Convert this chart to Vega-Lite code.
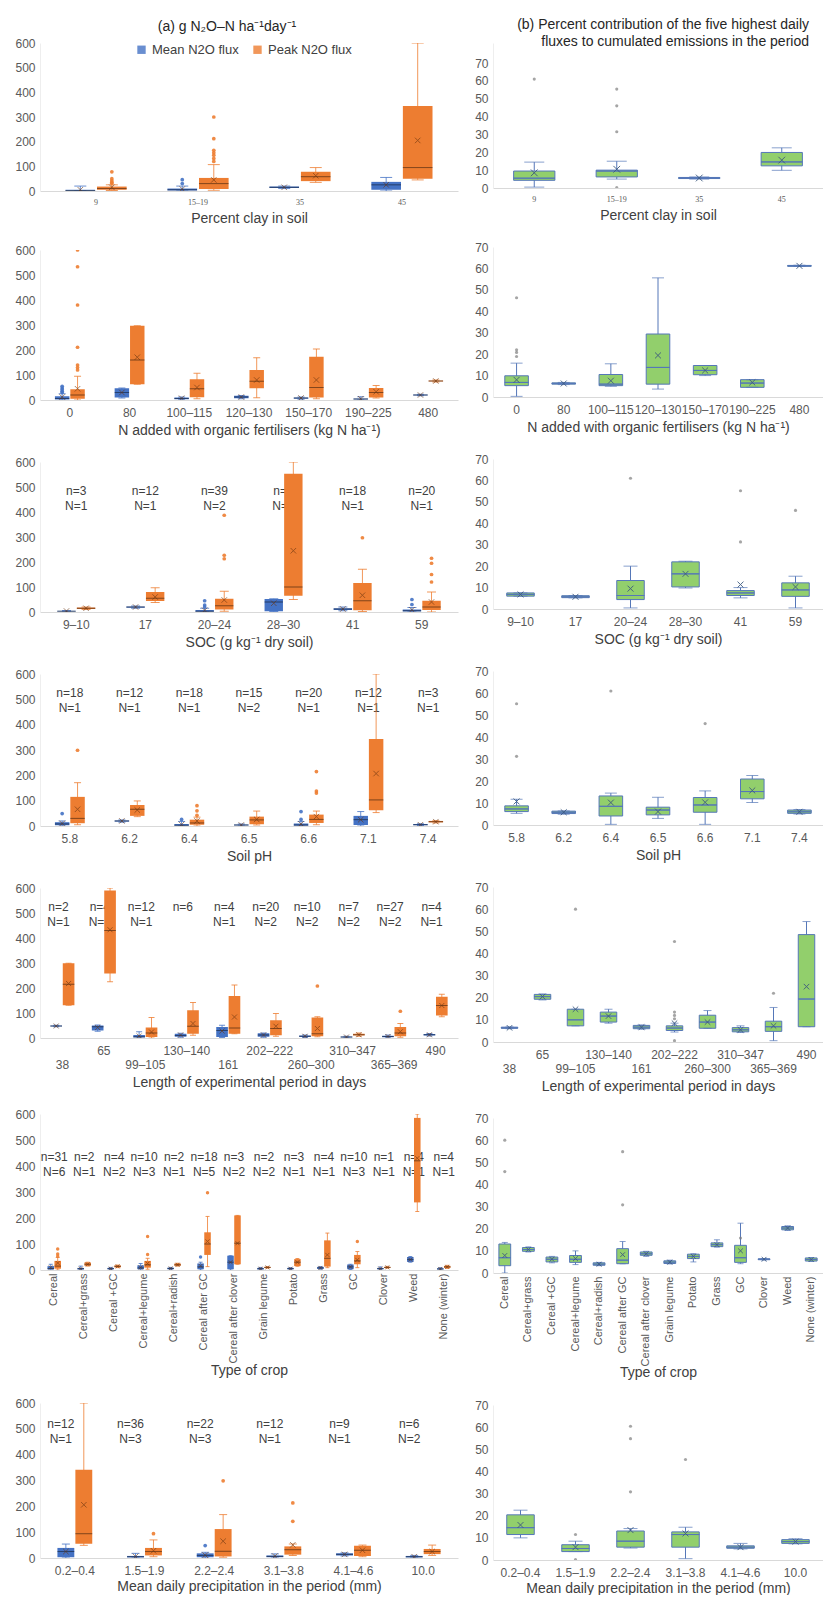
{
"$schema": "https://vega.github.io/schema/vega-lite/v6.json",
"padding": {"left": 14, "top": 18, "right": 0, "bottom": 0},
"background": "white",
"config": {
 "font": "Liberation Sans",
 "view": {"stroke": null},
 "axis": {"ticks": false, "grid": false, "labelColor": "#595959", "labelFontSize": 12, "titleColor": "#404040", "titleFontSize": 14, "titleFontWeight": "normal", "domainColor": "#d9d9d9", "labelFont": "Liberation Sans", "titleFont": "Liberation Sans"},
 "axisX": {"labelPadding": 7, "titlePadding": 5, "labelAngle": 0},
 "axisY": {"labelPadding": 5, "domainColor": "#eeeeee"},
 "title": {"fontSize": 14, "fontWeight": "normal", "color": "#262626", "font": "Liberation Sans"},
 "text": {"font": "Liberation Sans"}
},
"datasets": {"d": [
{"p":"a1","k":"b","c":"9","s":"M","lo":0,"q1":1,"md":2,"q3":5,"hi":20,"mn":5},
{"p":"a1","k":"b","c":"9","s":"P","lo":2,"q1":5,"md":10,"q3":18,"hi":25,"mn":15},
{"p":"a1","k":"b","c":"15–19","s":"M","lo":0,"q1":2,"md":5,"q3":10,"hi":20,"mn":8},
{"p":"a1","k":"b","c":"15–19","s":"P","lo":3,"q1":8,"md":30,"q3":53,"hi":107,"mn":45},
{"p":"a1","k":"b","c":"35","s":"M","lo":10,"q1":12,"md":15,"q3":18,"hi":20,"mn":15},
{"p":"a1","k":"b","c":"35","s":"P","lo":35,"q1":40,"md":58,"q3":78,"hi":95,"mn":62},
{"p":"a1","k":"b","c":"45","s":"M","lo":0,"q1":5,"md":25,"q3":37,"hi":55,"mn":25},
{"p":"a1","k":"b","c":"45","s":"P","lo":45,"q1":50,"md":95,"q3":345,"hi":600,"mn":205},
{"p":"a1","k":"o","c":"9","s":"P","v":78},{"p":"a1","k":"o","c":"9","s":"P","v":50},{"p":"a1","k":"o","c":"9","s":"P","v":42},{"p":"a1","k":"o","c":"9","s":"P","v":35},{"p":"a1","k":"o","c":"9","s":"P","v":30},
{"p":"a1","k":"o","c":"15–19","s":"M","v":46},{"p":"a1","k":"o","c":"15–19","s":"M","v":30},
{"p":"a1","k":"o","c":"15–19","s":"P","v":300},{"p":"a1","k":"o","c":"15–19","s":"P","v":212},{"p":"a1","k":"o","c":"15–19","s":"P","v":165},{"p":"a1","k":"o","c":"15–19","s":"P","v":155},{"p":"a1","k":"o","c":"15–19","s":"P","v":145},{"p":"a1","k":"o","c":"15–19","s":"P","v":132},{"p":"a1","k":"o","c":"15–19","s":"P","v":120},

{"p":"a2","k":"b","c":"0","s":"M","lo":0,"q1":2,"md":6,"q3":15,"hi":25,"mn":12},
{"p":"a2","k":"b","c":"0","s":"P","lo":0,"q1":5,"md":20,"q3":43,"hi":95,"mn":45},
{"p":"a2","k":"b","c":"80","s":"M","lo":8,"q1":10,"md":30,"q3":47,"hi":48,"mn":30},
{"p":"a2","k":"b","c":"80","s":"P","lo":63,"q1":63,"md":160,"q3":297,"hi":297,"mn":171},
{"p":"a2","k":"b","c":"100–115","s":"M","lo":1,"q1":3,"md":6,"q3":10,"hi":12,"mn":7},
{"p":"a2","k":"b","c":"100–115","s":"P","lo":5,"q1":11,"md":45,"q3":83,"hi":107,"mn":50},
{"p":"a2","k":"b","c":"120–130","s":"M","lo":5,"q1":7,"md":12,"q3":17,"hi":18,"mn":12},
{"p":"a2","k":"b","c":"120–130","s":"P","lo":9,"q1":47,"md":75,"q3":120,"hi":169,"mn":80},
{"p":"a2","k":"b","c":"150–170","s":"M","lo":3,"q1":5,"md":8,"q3":10,"hi":12,"mn":8},
{"p":"a2","k":"b","c":"150–170","s":"P","lo":5,"q1":10,"md":50,"q3":173,"hi":204,"mn":80},
{"p":"a2","k":"b","c":"190–225","s":"M","lo":0,"q1":2,"md":4,"q3":6,"hi":13,"mn":5},
{"p":"a2","k":"b","c":"190–225","s":"P","lo":8,"q1":10,"md":30,"q3":48,"hi":58,"mn":33},
{"p":"a2","k":"b","c":"480","s":"M","lo":17,"q1":18,"md":20,"q3":22,"hi":23,"mn":20},
{"p":"a2","k":"b","c":"480","s":"P","lo":72,"q1":74,"md":76,"q3":78,"hi":80,"mn":76},
{"p":"a2","k":"o","c":"0","s":"M","v":55},{"p":"a2","k":"o","c":"0","s":"M","v":48},{"p":"a2","k":"o","c":"0","s":"M","v":42},{"p":"a2","k":"o","c":"0","s":"M","v":35},{"p":"a2","k":"o","c":"0","s":"M","v":30},
{"p":"a2","k":"o","c":"0","s":"P","v":600},{"p":"a2","k":"o","c":"0","s":"P","v":533},{"p":"a2","k":"o","c":"0","s":"P","v":380},{"p":"a2","k":"o","c":"0","s":"P","v":211},{"p":"a2","k":"o","c":"0","s":"P","v":140},{"p":"a2","k":"o","c":"0","s":"P","v":130},{"p":"a2","k":"o","c":"0","s":"P","v":120},

{"p":"a3","k":"b","c":"9–10","s":"M","lo":0,"q1":2,"md":3,"q3":5,"hi":6,"mn":4},
{"p":"a3","k":"b","c":"9–10","s":"P","lo":10,"q1":12,"md":15,"q3":18,"hi":20,"mn":15},
{"p":"a3","k":"b","c":"17","s":"M","lo":15,"q1":17,"md":20,"q3":22,"hi":24,"mn":20},
{"p":"a3","k":"b","c":"17","s":"P","lo":38,"q1":44,"md":55,"q3":80,"hi":97,"mn":60},
{"p":"a3","k":"b","c":"20–24","s":"M","lo":0,"q1":1,"md":3,"q3":8,"hi":15,"mn":7},
{"p":"a3","k":"b","c":"20–24","s":"P","lo":3,"q1":10,"md":25,"q3":53,"hi":83,"mn":48},
{"p":"a3","k":"b","c":"28–30","s":"M","lo":2,"q1":3,"md":40,"q3":52,"hi":53,"mn":35},
{"p":"a3","k":"b","c":"28–30","s":"P","lo":50,"q1":65,"md":100,"q3":553,"hi":600,"mn":245},
{"p":"a3","k":"b","c":"41","s":"M","lo":5,"q1":8,"md":12,"q3":15,"hi":20,"mn":12},
{"p":"a3","k":"b","c":"41","s":"P","lo":2,"q1":7,"md":45,"q3":116,"hi":171,"mn":67},
{"p":"a3","k":"b","c":"59","s":"M","lo":0,"q1":2,"md":5,"q3":10,"hi":18,"mn":9},
{"p":"a3","k":"b","c":"59","s":"P","lo":0,"q1":8,"md":20,"q3":45,"hi":80,"mn":40},
{"p":"a3","k":"o","c":"20–24","s":"M","v":45},{"p":"a3","k":"o","c":"20–24","s":"M","v":28},{"p":"a3","k":"o","c":"20–24","s":"M","v":20},
{"p":"a3","k":"o","c":"20–24","s":"P","v":387},{"p":"a3","k":"o","c":"20–24","s":"P","v":227},{"p":"a3","k":"o","c":"20–24","s":"P","v":213},
{"p":"a3","k":"o","c":"41","s":"P","v":297},
{"p":"a3","k":"o","c":"59","s":"M","v":50},{"p":"a3","k":"o","c":"59","s":"M","v":30},
{"p":"a3","k":"o","c":"59","s":"P","v":215},{"p":"a3","k":"o","c":"59","s":"P","v":195},{"p":"a3","k":"o","c":"59","s":"P","v":150},{"p":"a3","k":"o","c":"59","s":"P","v":120},
{"p":"a3","k":"l","c":"9–10","t":"n=3\nN=1"},{"p":"a3","k":"l","c":"17","t":"n=12\nN=1"},{"p":"a3","k":"l","c":"20–24","t":"n=39\nN=2"},{"p":"a3","k":"l","c":"28–30","t":"n=6\nN=1"},{"p":"a3","k":"l","c":"41","t":"n=18\nN=1"},{"p":"a3","k":"l","c":"59","t":"n=20\nN=1"},

{"p":"a4","k":"b","c":"5.8","s":"M","lo":0,"q1":3,"md":8,"q3":15,"hi":20,"mn":10},
{"p":"a4","k":"b","c":"5.8","s":"P","lo":5,"q1":11,"md":30,"q3":115,"hi":171,"mn":66},
{"p":"a4","k":"b","c":"6.2","s":"M","lo":15,"q1":17,"md":20,"q3":22,"hi":24,"mn":20},
{"p":"a4","k":"b","c":"6.2","s":"P","lo":37,"q1":40,"md":66,"q3":83,"hi":99,"mn":63},
{"p":"a4","k":"b","c":"6.4","s":"M","lo":0,"q1":1,"md":3,"q3":8,"hi":18,"mn":6},
{"p":"a4","k":"b","c":"6.4","s":"P","lo":0,"q1":5,"md":12,"q3":25,"hi":35,"mn":20},
{"p":"a4","k":"b","c":"6.5","s":"M","lo":0,"q1":2,"md":4,"q3":6,"hi":8,"mn":4},
{"p":"a4","k":"b","c":"6.5","s":"P","lo":4,"q1":7,"md":24,"q3":37,"hi":59,"mn":26},
{"p":"a4","k":"b","c":"6.6","s":"M","lo":0,"q1":1,"md":4,"q3":10,"hi":18,"mn":8},
{"p":"a4","k":"b","c":"6.6","s":"P","lo":5,"q1":12,"md":26,"q3":45,"hi":59,"mn":37},
{"p":"a4","k":"b","c":"7.1","s":"M","lo":0,"q1":4,"md":25,"q3":40,"hi":57,"mn":25},
{"p":"a4","k":"b","c":"7.1","s":"P","lo":53,"q1":62,"md":103,"q3":343,"hi":600,"mn":207},
{"p":"a4","k":"b","c":"7.4","s":"M","lo":2,"q1":3,"md":5,"q3":8,"hi":9,"mn":5},
{"p":"a4","k":"b","c":"7.4","s":"P","lo":12,"q1":14,"md":17,"q3":20,"hi":21,"mn":17},
{"p":"a4","k":"o","c":"5.8","s":"M","v":49},{"p":"a4","k":"o","c":"5.8","s":"P","v":299},
{"p":"a4","k":"o","c":"6.4","s":"M","v":26},{"p":"a4","k":"o","c":"6.4","s":"P","v":80},{"p":"a4","k":"o","c":"6.4","s":"P","v":60},{"p":"a4","k":"o","c":"6.4","s":"P","v":42},
{"p":"a4","k":"o","c":"6.6","s":"M","v":57},{"p":"a4","k":"o","c":"6.6","s":"M","v":26},
{"p":"a4","k":"o","c":"6.6","s":"P","v":215},{"p":"a4","k":"o","c":"6.6","s":"P","v":138},{"p":"a4","k":"o","c":"6.6","s":"P","v":130},
{"p":"a4","k":"l","c":"5.8","t":"n=18\nN=1"},{"p":"a4","k":"l","c":"6.2","t":"n=12\nN=1"},{"p":"a4","k":"l","c":"6.4","t":"n=18\nN=1"},{"p":"a4","k":"l","c":"6.5","t":"n=15\nN=2"},{"p":"a4","k":"l","c":"6.6","t":"n=20\nN=1"},{"p":"a4","k":"l","c":"7.1","t":"n=12\nN=1"},{"p":"a4","k":"l","c":"7.4","t":"n=3\nN=1"},

{"p":"a5","k":"b","c":"38","s":"M","lo":45,"q1":46,"md":48,"q3":50,"hi":51,"mn":48},
{"p":"a5","k":"b","c":"38","s":"P","lo":131,"q1":131,"md":215,"q3":299,"hi":299,"mn":218},
{"p":"a5","k":"b","c":"65","s":"M","lo":27,"q1":30,"md":45,"q3":50,"hi":52,"mn":42},
{"p":"a5","k":"b","c":"65","s":"P","lo":225,"q1":258,"md":430,"q3":590,"hi":600,"mn":433},
{"p":"a5","k":"b","c":"99–105","s":"M","lo":0,"q1":2,"md":5,"q3":12,"hi":25,"mn":8},
{"p":"a5","k":"b","c":"99–105","s":"P","lo":0,"q1":4,"md":20,"q3":42,"hi":82,"mn":24},
{"p":"a5","k":"b","c":"130–140","s":"M","lo":3,"q1":5,"md":10,"q3":17,"hi":19,"mn":12},
{"p":"a5","k":"b","c":"130–140","s":"P","lo":11,"q1":17,"md":47,"q3":111,"hi":142,"mn":58},
{"p":"a5","k":"b","c":"161","s":"M","lo":2,"q1":4,"md":30,"q3":44,"hi":51,"mn":28},
{"p":"a5","k":"b","c":"161","s":"P","lo":17,"q1":17,"md":40,"q3":168,"hi":212,"mn":84},
{"p":"a5","k":"b","c":"202–222","s":"M","lo":3,"q1":5,"md":12,"q3":19,"hi":20,"mn":12},
{"p":"a5","k":"b","c":"202–222","s":"P","lo":7,"q1":11,"md":38,"q3":71,"hi":98,"mn":47},
{"p":"a5","k":"b","c":"260–300","s":"M","lo":2,"q1":4,"md":7,"q3":10,"hi":12,"mn":7},
{"p":"a5","k":"b","c":"260–300","s":"P","lo":5,"q1":7,"md":17,"q3":82,"hi":85,"mn":38},
{"p":"a5","k":"b","c":"310–347","s":"M","lo":1,"q1":2,"md":4,"q3":6,"hi":7,"mn":4},
{"p":"a5","k":"b","c":"310–347","s":"P","lo":7,"q1":10,"md":13,"q3":17,"hi":20,"mn":13},
{"p":"a5","k":"b","c":"365–369","s":"M","lo":1,"q1":3,"md":6,"q3":9,"hi":12,"mn":6},
{"p":"a5","k":"b","c":"365–369","s":"P","lo":3,"q1":7,"md":20,"q3":44,"hi":58,"mn":25},
{"p":"a5","k":"b","c":"490","s":"M","lo":8,"q1":10,"md":13,"q3":16,"hi":18,"mn":13},
{"p":"a5","k":"b","c":"490","s":"P","lo":85,"q1":90,"md":130,"q3":165,"hi":175,"mn":130},
{"p":"a5","k":"o","c":"260–300","s":"P","v":208},{"p":"a5","k":"o","c":"365–369","s":"P","v":107},
{"p":"a5","k":"l","c":"38","t":"n=2\nN=1"},{"p":"a5","k":"l","c":"65","t":"n=4\nN=1"},{"p":"a5","k":"l","c":"99–105","t":"n=12\nN=1"},{"p":"a5","k":"l","c":"130–140","t":"n=6"},{"p":"a5","k":"l","c":"161","t":"n=4\nN=1"},{"p":"a5","k":"l","c":"202–222","t":"n=20\nN=2"},{"p":"a5","k":"l","c":"260–300","t":"n=10\nN=2"},{"p":"a5","k":"l","c":"310–347","t":"n=7\nN=2"},{"p":"a5","k":"l","c":"365–369","t":"n=27\nN=2"},{"p":"a5","k":"l","c":"490","t":"n=4\nN=1"},

{"p":"a6","k":"b","c":"Cereal","s":"M","lo":0,"q1":2,"md":6,"q3":15,"hi":22,"mn":10},
{"p":"a6","k":"b","c":"Cereal","s":"P","lo":0,"q1":5,"md":15,"q3":35,"hi":48,"mn":27},
{"p":"a6","k":"b","c":"Cereal+grass","s":"M","lo":0,"q1":2,"md":5,"q3":8,"hi":15,"mn":5},
{"p":"a6","k":"b","c":"Cereal+grass","s":"P","lo":15,"q1":16,"md":22,"q3":29,"hi":30,"mn":22},
{"p":"a6","k":"b","c":"Cereal +GC","s":"M","lo":2,"q1":3,"md":5,"q3":8,"hi":10,"mn":5},
{"p":"a6","k":"b","c":"Cereal +GC","s":"P","lo":9,"q1":10,"md":14,"q3":18,"hi":19,"mn":14},
{"p":"a6","k":"b","c":"Cereal+legume","s":"M","lo":0,"q1":3,"md":8,"q3":18,"hi":25,"mn":10},
{"p":"a6","k":"b","c":"Cereal+legume","s":"P","lo":3,"q1":9,"md":20,"q3":35,"hi":45,"mn":25},
{"p":"a6","k":"b","c":"Cereal+radish","s":"M","lo":1,"q1":3,"md":6,"q3":9,"hi":10,"mn":6},
{"p":"a6","k":"b","c":"Cereal+radish","s":"P","lo":15,"q1":16,"md":20,"q3":25,"hi":26,"mn":20},
{"p":"a6","k":"b","c":"Cereal after GC","s":"M","lo":0,"q1":3,"md":12,"q3":25,"hi":30,"mn":16},
{"p":"a6","k":"b","c":"Cereal after GC","s":"P","lo":13,"q1":58,"md":100,"q3":145,"hi":206,"mn":110},
{"p":"a6","k":"b","c":"Cereal after clover","s":"M","lo":0,"q1":3,"md":30,"q3":55,"hi":55,"mn":30},
{"p":"a6","k":"b","c":"Cereal after clover","s":"P","lo":22,"q1":22,"md":103,"q3":210,"hi":210,"mn":103},
{"p":"a6","k":"b","c":"Grain legume","s":"M","lo":0,"q1":2,"md":5,"q3":8,"hi":10,"mn":5},
{"p":"a6","k":"b","c":"Grain legume","s":"P","lo":7,"q1":8,"md":10,"q3":12,"hi":13,"mn":10},
{"p":"a6","k":"b","c":"Potato","s":"M","lo":1,"q1":3,"md":5,"q3":8,"hi":9,"mn":5},
{"p":"a6","k":"b","c":"Potato","s":"P","lo":14,"q1":15,"md":30,"q3":42,"hi":44,"mn":30},
{"p":"a6","k":"b","c":"Grass","s":"M","lo":3,"q1":4,"md":8,"q3":12,"hi":13,"mn":8},
{"p":"a6","k":"b","c":"Grass","s":"P","lo":9,"q1":13,"md":45,"q3":114,"hi":142,"mn":58},
{"p":"a6","k":"b","c":"GC","s":"M","lo":2,"q1":3,"md":12,"q3":21,"hi":22,"mn":12},
{"p":"a6","k":"b","c":"GC","s":"P","lo":9,"q1":22,"md":35,"q3":58,"hi":71,"mn":39},
{"p":"a6","k":"b","c":"Clover","s":"M","lo":1,"q1":3,"md":5,"q3":8,"hi":12,"mn":5},
{"p":"a6","k":"b","c":"Clover","s":"P","lo":7,"q1":8,"md":10,"q3":12,"hi":14,"mn":10},
{"p":"a6","k":"b","c":"Weed","s":"M","lo":30,"q1":31,"md":40,"q3":50,"hi":52,"mn":40},
{"p":"a6","k":"b","c":"Weed","s":"P","lo":225,"q1":260,"md":420,"q3":585,"hi":600,"mn":430},
{"p":"a6","k":"b","c":"None (winter)","s":"M","lo":0,"q1":2,"md":4,"q3":7,"hi":9,"mn":4},
{"p":"a6","k":"b","c":"None (winter)","s":"P","lo":6,"q1":8,"md":12,"q3":16,"hi":18,"mn":12},
{"p":"a6","k":"o","c":"Cereal","s":"P","v":81},{"p":"a6","k":"o","c":"Cereal","s":"P","v":62},{"p":"a6","k":"o","c":"Cereal","s":"P","v":53},
{"p":"a6","k":"o","c":"Cereal+legume","s":"P","v":129},{"p":"a6","k":"o","c":"Cereal+legume","s":"P","v":60},
{"p":"a6","k":"o","c":"Cereal after GC","s":"M","v":50},{"p":"a6","k":"o","c":"Cereal after GC","s":"P","v":297},
{"p":"a6","k":"o","c":"GC","s":"P","v":110},
{"p":"a6","k":"l","c":"Cereal","t":"n=31\nN=6"},{"p":"a6","k":"l","c":"Cereal+grass","t":"n=2\nN=1"},{"p":"a6","k":"l","c":"Cereal +GC","t":"n=4\nN=2"},{"p":"a6","k":"l","c":"Cereal+legume","t":"n=10\nN=3"},{"p":"a6","k":"l","c":"Cereal+radish","t":"n=2\nN=1"},{"p":"a6","k":"l","c":"Cereal after GC","t":"n=18\nN=5"},{"p":"a6","k":"l","c":"Cereal after clover","t":"n=3\nN=2"},{"p":"a6","k":"l","c":"Grain legume","t":"n=2\nN=2"},{"p":"a6","k":"l","c":"Potato","t":"n=3\nN=1"},{"p":"a6","k":"l","c":"Grass","t":"n=4\nN=1"},{"p":"a6","k":"l","c":"GC","t":"n=10\nN=3"},{"p":"a6","k":"l","c":"Clover","t":"n=1\nN=1"},{"p":"a6","k":"l","c":"Weed","t":"n=4\nN=1"},{"p":"a6","k":"l","c":"None (winter)","t":"n=4\nN=1"},

{"p":"a7","k":"b","c":"0.2–0.4","s":"M","lo":0,"q1":3,"md":25,"q3":39,"hi":54,"mn":25},
{"p":"a7","k":"b","c":"0.2–0.4","s":"P","lo":49,"q1":55,"md":94,"q3":342,"hi":600,"mn":206},
{"p":"a7","k":"b","c":"1.5–1.9","s":"M","lo":0,"q1":2,"md":5,"q3":8,"hi":18,"mn":6},
{"p":"a7","k":"b","c":"1.5–1.9","s":"P","lo":5,"q1":10,"md":25,"q3":39,"hi":70,"mn":28},
{"p":"a7","k":"b","c":"2.2–2.4","s":"M","lo":0,"q1":3,"md":10,"q3":18,"hi":22,"mn":11},
{"p":"a7","k":"b","c":"2.2–2.4","s":"P","lo":3,"q1":6,"md":26,"q3":112,"hi":168,"mn":65},
{"p":"a7","k":"b","c":"3.1–3.8","s":"M","lo":0,"q1":3,"md":6,"q3":10,"hi":16,"mn":7},
{"p":"a7","k":"b","c":"3.1–3.8","s":"P","lo":10,"q1":13,"md":32,"q3":45,"hi":54,"mn":51},
{"p":"a7","k":"b","c":"4.1–4.6","s":"M","lo":8,"q1":10,"md":14,"q3":18,"hi":20,"mn":14},
{"p":"a7","k":"b","c":"4.1–4.6","s":"P","lo":5,"q1":8,"md":30,"q3":47,"hi":50,"mn":30},
{"p":"a7","k":"b","c":"10.0","s":"M","lo":0,"q1":2,"md":5,"q3":8,"hi":10,"mn":5},
{"p":"a7","k":"b","c":"10.0","s":"P","lo":10,"q1":15,"md":25,"q3":35,"hi":50,"mn":25},
{"p":"a7","k":"o","c":"1.5–1.9","s":"P","v":94},{"p":"a7","k":"o","c":"2.2–2.4","s":"M","v":48},{"p":"a7","k":"o","c":"2.2–2.4","s":"P","v":299},
{"p":"a7","k":"o","c":"3.1–3.8","s":"P","v":213},{"p":"a7","k":"o","c":"3.1–3.8","s":"P","v":142},
{"p":"a7","k":"l","c":"0.2–0.4","t":"n=12\nN=1"},{"p":"a7","k":"l","c":"1.5–1.9","t":"n=36\nN=3"},{"p":"a7","k":"l","c":"2.2–2.4","t":"n=22\nN=3"},{"p":"a7","k":"l","c":"3.1–3.8","t":"n=12\nN=1"},{"p":"a7","k":"l","c":"4.1–4.6","t":"n=9\nN=1"},{"p":"a7","k":"l","c":"10.0","t":"n=6\nN=2"},

{"p":"b1","k":"b","c":"9","lo":0.5,"q1":4.3,"md":5.5,"q3":9.5,"hi":14.5,"mn":8.5},
{"p":"b1","k":"b","c":"15–19","lo":5,"q1":6.2,"md":9.5,"q3":10,"hi":15,"mn":10.5},
{"p":"b1","k":"b","c":"35","lo":5,"q1":5.3,"md":5.6,"q3":5.9,"hi":6.2,"mn":5.6},
{"p":"b1","k":"b","c":"45","lo":9.9,"q1":12.4,"md":14.6,"q3":19.9,"hi":22.5,"mn":15.6},
{"p":"b1","k":"o","c":"9","v":61},{"p":"b1","k":"o","c":"15–19","v":55.4},{"p":"b1","k":"o","c":"15–19","v":46},{"p":"b1","k":"o","c":"15–19","v":31.5},{"p":"b1","k":"o","c":"15–19","v":0.3},

{"p":"b2","k":"b","c":"0","lo":0.3,"q1":5.3,"md":6.8,"q3":9.9,"hi":15.8,"mn":8},
{"p":"b2","k":"b","c":"80","lo":5.8,"q1":6,"md":6.3,"q3":6.6,"hi":6.8,"mn":6.3},
{"p":"b2","k":"b","c":"100–115","lo":5,"q1":5.3,"md":6,"q3":10.5,"hi":15.5,"mn":7.6},
{"p":"b2","k":"b","c":"120–130","lo":3.7,"q1":6,"md":13.8,"q3":29.4,"hi":55.6,"mn":19.4},
{"p":"b2","k":"b","c":"150–170","lo":10,"q1":10.4,"md":12.4,"q3":14.7,"hi":14.7,"mn":12.4},
{"p":"b2","k":"b","c":"190–225","lo":4.5,"q1":4.5,"md":6.5,"q3":8.1,"hi":8.1,"mn":6.8},
{"p":"b2","k":"b","c":"480","lo":60.9,"q1":61,"md":61.2,"q3":61.4,"hi":61.5,"mn":61.2},
{"p":"b2","k":"o","c":"0","v":46.3},{"p":"b2","k":"o","c":"0","v":22},{"p":"b2","k":"o","c":"0","v":20.8},{"p":"b2","k":"o","c":"0","v":18.9},

{"p":"b3","k":"b","c":"9–10","lo":6,"q1":6,"md":6.8,"q3":7.5,"hi":7.5,"mn":6.8},
{"p":"b3","k":"b","c":"17","lo":5.2,"q1":5.3,"md":5.7,"q3":6.2,"hi":6.3,"mn":5.7},
{"p":"b3","k":"b","c":"20–24","lo":0.5,"q1":4.4,"md":6.3,"q3":13.3,"hi":20,"mn":9.5},
{"p":"b3","k":"b","c":"28–30","lo":9.8,"q1":10.3,"md":16.4,"q3":22,"hi":22.3,"mn":16.4},
{"p":"b3","k":"b","c":"41","lo":5.2,"q1":6.3,"md":7.5,"q3":8.6,"hi":10,"mn":11.4},
{"p":"b3","k":"b","c":"59","lo":0.5,"q1":5.9,"md":8.9,"q3":12.2,"hi":15.3,"mn":10.3},
{"p":"b3","k":"o","c":"20–24","v":61},{"p":"b3","k":"o","c":"41","v":55.2},{"p":"b3","k":"o","c":"41","v":31.3},{"p":"b3","k":"o","c":"59","v":46},

{"p":"b4","k":"b","c":"5.8","lo":5.3,"q1":6.1,"md":7.3,"q3":8.7,"hi":11.7,"mn":10.7},
{"p":"b4","k":"b","c":"6.2","lo":4.9,"q1":5.2,"md":5.8,"q3":6.3,"hi":6.4,"mn":5.8},
{"p":"b4","k":"b","c":"6.4","lo":0.3,"q1":4.1,"md":8.5,"q3":13.2,"hi":14.5,"mn":10.2},
{"p":"b4","k":"b","c":"6.5","lo":3,"q1":4.6,"md":6.8,"q3":8.1,"hi":12.6,"mn":6.1},
{"p":"b4","k":"b","c":"6.6","lo":0.3,"q1":5.8,"md":9.1,"q3":12.5,"hi":15.5,"mn":10.3},
{"p":"b4","k":"b","c":"7.1","lo":10.2,"q1":11.9,"md":15.2,"q3":20.9,"hi":22.5,"mn":15.7},
{"p":"b4","k":"b","c":"7.4","lo":5,"q1":5.3,"md":6,"q3":6.8,"hi":7,"mn":6},
{"p":"b4","k":"o","c":"5.8","v":55.1},{"p":"b4","k":"o","c":"5.8","v":31.2},{"p":"b4","k":"o","c":"6.4","v":60.9},{"p":"b4","k":"o","c":"6.6","v":46.1},

{"p":"b5","k":"b","c":"38","lo":6,"q1":6.2,"md":6.4,"q3":6.7,"hi":6.8,"mn":6.4},
{"p":"b5","k":"b","c":"65","lo":19,"q1":19.3,"md":20.5,"q3":21.5,"hi":21.7,"mn":20.5},
{"p":"b5","k":"b","c":"99–105","lo":7.3,"q1":7.3,"md":10,"q3":14.8,"hi":14.8,"mn":14.8},
{"p":"b5","k":"b","c":"130–140","lo":8.5,"q1":9,"md":11.7,"q3":13.5,"hi":14.8,"mn":11.7},
{"p":"b5","k":"b","c":"161","lo":5.8,"q1":6,"md":6.7,"q3":7.5,"hi":7.7,"mn":6.7},
{"p":"b5","k":"b","c":"202–222","lo":4.5,"q1":5.2,"md":6.3,"q3":7.3,"hi":8.5,"mn":8.5},
{"p":"b5","k":"b","c":"260–300","lo":6.2,"q1":6.2,"md":9,"q3":12.1,"hi":14.2,"mn":9},
{"p":"b5","k":"b","c":"310–347","lo":4.3,"q1":4.6,"md":5.5,"q3":6.5,"hi":7.3,"mn":5.5},
{"p":"b5","k":"b","c":"365–369","lo":0.6,"q1":4.8,"md":6.9,"q3":9.4,"hi":15.6,"mn":7.3},
{"p":"b5","k":"b","c":"490","lo":6.9,"q1":6.9,"md":19.4,"q3":48.5,"hi":54.4,"mn":25},
{"p":"b5","k":"o","c":"99–105","v":60},{"p":"b5","k":"o","c":"202–222","v":45.4},{"p":"b5","k":"o","c":"202–222","v":13.5},{"p":"b5","k":"o","c":"202–222","v":12},{"p":"b5","k":"o","c":"202–222","v":10.5},{"p":"b5","k":"o","c":"202–222","v":0.6},{"p":"b5","k":"o","c":"365–369","v":22},

{"p":"b6","k":"b","c":"Cereal","lo":0,"q1":3.3,"md":6.9,"q3":13.1,"hi":13.8,"mn":7.9},
{"p":"b6","k":"b","c":"Cereal+grass","lo":9.5,"q1":9.8,"md":10.6,"q3":11.5,"hi":11.8,"mn":10.6},
{"p":"b6","k":"b","c":"Cereal +GC","lo":4.6,"q1":5,"md":6.2,"q3":7.2,"hi":7.5,"mn":6.2},
{"p":"b6","k":"b","c":"Cereal+legume","lo":3.8,"q1":4.8,"md":6.2,"q3":7.9,"hi":10,"mn":6.5},
{"p":"b6","k":"b","c":"Cereal+radish","lo":3.3,"q1":3.5,"md":4,"q3":4.6,"hi":4.8,"mn":4},
{"p":"b6","k":"b","c":"Cereal after GC","lo":4.2,"q1":4.2,"md":5.8,"q3":11,"hi":14.2,"mn":8.3},
{"p":"b6","k":"b","c":"Cereal after clover","lo":7.5,"q1":8,"md":8.7,"q3":9.5,"hi":9.8,"mn":8.7},
{"p":"b6","k":"b","c":"Grain legume","lo":4.1,"q1":4.3,"md":4.9,"q3":5.5,"hi":5.8,"mn":4.9},
{"p":"b6","k":"b","c":"Potato","lo":5,"q1":6.5,"md":7.5,"q3":8.5,"hi":8.7,"mn":7.5},
{"p":"b6","k":"b","c":"Grass","lo":11.7,"q1":11.9,"md":12.8,"q3":13.6,"hi":15,"mn":12.8},
{"p":"b6","k":"b","c":"GC","lo":4.2,"q1":4.8,"md":6.9,"q3":12.5,"hi":22.5,"mn":10},
{"p":"b6","k":"b","c":"Clover","lo":5.9,"q1":6,"md":6.2,"q3":6.4,"hi":6.5,"mn":6.2},
{"p":"b6","k":"b","c":"Weed","lo":19.2,"q1":19.5,"md":20.3,"q3":21,"hi":21.3,"mn":20.3},
{"p":"b6","k":"b","c":"None (winter)","lo":5.2,"q1":5.4,"md":6.1,"q3":6.8,"hi":7,"mn":6.1},
{"p":"b6","k":"o","c":"Cereal","v":60},{"p":"b6","k":"o","c":"Cereal","v":45.8},{"p":"b6","k":"o","c":"Cereal after GC","v":54.8},{"p":"b6","k":"o","c":"Cereal after GC","v":30.8},{"p":"b6","k":"o","c":"GC","v":15.8},

{"p":"b7","k":"b","c":"0.2–0.4","lo":10,"q1":11.5,"md":14.6,"q3":20.4,"hi":22.5,"mn":15.8},
{"p":"b7","k":"b","c":"1.5–1.9","lo":3.8,"q1":3.8,"md":5.2,"q3":6.9,"hi":8.5,"mn":5.8},
{"p":"b7","k":"b","c":"2.2–2.4","lo":5.4,"q1":5.8,"md":8.5,"q3":13.1,"hi":14.2,"mn":13.5},
{"p":"b7","k":"b","c":"3.1–3.8","lo":0.6,"q1":5.8,"md":11.5,"q3":12.7,"hi":14.8,"mn":12},
{"p":"b7","k":"b","c":"4.1–4.6","lo":5,"q1":5.3,"md":5.8,"q3":6.4,"hi":7.5,"mn":5.8},
{"p":"b7","k":"b","c":"10.0","lo":7.3,"q1":7.5,"md":8.3,"q3":9.2,"hi":9.6,"mn":8.3},
{"p":"b7","k":"o","c":"1.5–1.9","v":11.5},{"p":"b7","k":"o","c":"1.5–1.9","v":0.2},{"p":"b7","k":"o","c":"2.2–2.4","v":60.4},{"p":"b7","k":"o","c":"2.2–2.4","v":54.8},{"p":"b7","k":"o","c":"2.2–2.4","v":30.8},{"p":"b7","k":"o","c":"3.1–3.8","v":45.4}
]},
"resolve": {"scale": {"color": "independent", "xOffset": "independent"}, "legend": {"color": "independent"}},
"align": "none",
"spacing": 16,
"hconcat": [
{"spacing": 19,
 "resolve": {"scale": {"color": "independent", "xOffset": "independent"}, "legend": {"color": "independent"}},
 "vconcat": [
 {"width": 418, "height": 148,
  "title": {"text": "(a) g N₂O–N ha⁻¹day⁻¹", "offset": 3, "dx": -22},
  "data": {"name": "d"}, "transform": [{"filter": "datum.p=='a1'"}],
  "encoding": {"x": {"field": "c", "type": "nominal", "scale": {"domain": ["9","15–19","35","45"], "paddingInner": 0.4, "paddingOuter": 0.25}, "axis": {"title": "Percent clay in soil", "labelFont": "Liberation Serif", "labelFontSize": 8}}},
  "layer": [
   {"transform": [{"filter": "datum.k=='b'"}], "mark": {"type": "rule", "clip": true, "opacity": 0.8},
    "encoding": {"xOffset": {"field":"s","type":"nominal","scale":{"domain":["M","P"],"paddingInner":0.06}}, "y": {"field":"lo","type":"quantitative","scale":{"domain":[0,600],"nice":false},"axis":{"values":[0,100,200,300,400,500,600],"title":null}}, "y2": {"field":"hi"}, "color": {"field":"s","type":"nominal","scale":{"domain":["M","P"],"range":["#4472C4","#ED7D31"]},"legend":{"orient":"none","legendX":95,"legendY":0,"direction":"horizontal","title":null,"symbolType":"square","symbolSize":70,"labelFontSize":13,"labelColor":"#404040","columnPadding":12,"symbolStrokeWidth":0,"labelExpr":"datum.label=='M' ? 'Mean N2O flux' : 'Peak N2O flux'"}}}},
   {"transform": [{"filter": "datum.k=='b'"}], "mark": {"type": "bar", "clip": true},
    "encoding": {"xOffset": {"field":"s","type":"nominal","scale":{"domain":["M","P"],"paddingInner":0.06}}, "y": {"field":"q1","type":"quantitative","scale":{"domain":[0,600],"nice":false},"axis":{"values":[0,100,200,300,400,500,600],"title":null}}, "y2": {"field":"q3"}, "color": {"field":"s","type":"nominal","scale":{"domain":["M","P"],"range":["#4472C4","#ED7D31"]},"legend":{"orient":"none","legendX":95,"legendY":0,"direction":"horizontal","title":null,"symbolType":"square","symbolSize":70,"labelFontSize":13,"labelColor":"#404040","columnPadding":12,"symbolStrokeWidth":0,"labelExpr":"datum.label=='M' ? 'Mean N2O flux' : 'Peak N2O flux'"}}}},
   {"transform": [{"filter": "datum.k=='b'"}, {"fold": ["lo","hi"], "as": ["w","cv"]}], "mark": {"type": "tick", "clip": true, "thickness": 1, "size": 12, "opacity": 0.8},
    "encoding": {"xOffset": {"field":"s","type":"nominal","scale":{"domain":["M","P"],"paddingInner":0.06}}, "y": {"field":"cv","type":"quantitative","scale":{"domain":[0,600],"nice":false},"axis":{"values":[0,100,200,300,400,500,600],"title":null}}, "color": {"field":"s","type":"nominal","scale":{"domain":["M","P"],"range":["#4472C4","#ED7D31"]},"legend":{"orient":"none","legendX":95,"legendY":0,"direction":"horizontal","title":null,"symbolType":"square","symbolSize":70,"labelFontSize":13,"labelColor":"#404040","columnPadding":12,"symbolStrokeWidth":0,"labelExpr":"datum.label=='M' ? 'Mean N2O flux' : 'Peak N2O flux'"}}}},
   {"transform": [{"filter": "datum.k=='b'"}], "mark": {"type": "bar", "clip": true, "fillOpacity": 0, "stroke": "#000", "strokeOpacity": 0.25, "strokeWidth": 1},
    "encoding": {"xOffset": {"field":"s","type":"nominal","scale":{"domain":["M","P"],"paddingInner":0.06}}, "y": {"field":"md","type":"quantitative","scale":{"domain":[0,600],"nice":false},"axis":{"values":[0,100,200,300,400,500,600],"title":null}}, "y2": {"field":"md"}}},
   {"transform": [{"filter": "datum.k=='b'"}], "mark": {"type": "point", "shape": "M-1,-1L1,1M-1,1L1,-1", "filled": false, "size": 30, "strokeWidth": 1, "color": "#6b3510", "opacity": 0.6, "clip": true},
    "encoding": {"xOffset": {"field":"s","type":"nominal","scale":{"domain":["M","P"],"paddingInner":0.06}}, "y": {"field":"mn","type":"quantitative","scale":{"domain":[0,600],"nice":false},"axis":{"values":[0,100,200,300,400,500,600],"title":null}}}},
   {"transform": [{"filter": "datum.k=='o'"}], "mark": {"type": "point", "shape": "circle", "filled": true, "size": 14, "opacity": 0.9, "clip": true},
    "encoding": {"xOffset": {"field":"s","type":"nominal","scale":{"domain":["M","P"],"paddingInner":0.06}}, "y": {"field":"v","type":"quantitative","scale":{"domain":[0,600],"nice":false},"axis":{"values":[0,100,200,300,400,500,600],"title":null}}, "color": {"field":"s","type":"nominal","scale":{"domain":["M","P"],"range":["#4472C4","#ED7D31"]},"legend":{"orient":"none","legendX":95,"legendY":0,"direction":"horizontal","title":null,"symbolType":"square","symbolSize":70,"labelFontSize":13,"labelColor":"#404040","columnPadding":12,"symbolStrokeWidth":0,"labelExpr":"datum.label=='M' ? 'Mean N2O flux' : 'Peak N2O flux'"}}}}
  ]},
 {"width": 418, "height": 150,
  "data": {"name": "d"}, "transform": [{"filter": "datum.p=='a2'"}],
  "encoding": {"x": {"field": "c", "type": "nominal", "scale": {"domain": ["0","80","100–115","120–130","150–170","190–225","480"], "paddingInner": 0.5, "paddingOuter": 0.25}, "axis": {"title": "N added with organic fertilisers (kg N ha⁻¹)"}}},
  "layer": [
   {"transform": [{"filter": "datum.k=='b'"}], "mark": {"type": "rule", "clip": true, "opacity": 0.8},
    "encoding": {"xOffset": {"field":"s","type":"nominal","scale":{"domain":["M","P"],"paddingInner":0.06}}, "y": {"field":"lo","type":"quantitative","scale":{"domain":[0,600],"nice":false},"axis":{"values":[0,100,200,300,400,500,600],"title":null}}, "y2": {"field":"hi"}, "color": {"field":"s","type":"nominal","scale":{"domain":["M","P"],"range":["#4472C4","#ED7D31"]},"legend":null}}},
   {"transform": [{"filter": "datum.k=='b'"}], "mark": {"type": "bar", "clip": true},
    "encoding": {"xOffset": {"field":"s","type":"nominal","scale":{"domain":["M","P"],"paddingInner":0.06}}, "y": {"field":"q1","type":"quantitative","scale":{"domain":[0,600],"nice":false},"axis":{"values":[0,100,200,300,400,500,600],"title":null}}, "y2": {"field":"q3"}, "color": {"field":"s","type":"nominal","scale":{"domain":["M","P"],"range":["#4472C4","#ED7D31"]},"legend":null}}},
   {"transform": [{"filter": "datum.k=='b'"}, {"fold": ["lo","hi"], "as": ["w","cv"]}], "mark": {"type": "tick", "clip": true, "thickness": 1, "size": 7, "opacity": 0.8},
    "encoding": {"xOffset": {"field":"s","type":"nominal","scale":{"domain":["M","P"],"paddingInner":0.06}}, "y": {"field":"cv","type":"quantitative","scale":{"domain":[0,600],"nice":false},"axis":{"values":[0,100,200,300,400,500,600],"title":null}}, "color": {"field":"s","type":"nominal","scale":{"domain":["M","P"],"range":["#4472C4","#ED7D31"]},"legend":null}}},
   {"transform": [{"filter": "datum.k=='b'"}], "mark": {"type": "bar", "clip": true, "fillOpacity": 0, "stroke": "#000", "strokeOpacity": 0.25, "strokeWidth": 1},
    "encoding": {"xOffset": {"field":"s","type":"nominal","scale":{"domain":["M","P"],"paddingInner":0.06}}, "y": {"field":"md","type":"quantitative","scale":{"domain":[0,600],"nice":false},"axis":{"values":[0,100,200,300,400,500,600],"title":null}}, "y2": {"field":"md"}}},
   {"transform": [{"filter": "datum.k=='b'"}], "mark": {"type": "point", "shape": "M-1,-1L1,1M-1,1L1,-1", "filled": false, "size": 30, "strokeWidth": 1, "color": "#6b3510", "opacity": 0.6, "clip": true},
    "encoding": {"xOffset": {"field":"s","type":"nominal","scale":{"domain":["M","P"],"paddingInner":0.06}}, "y": {"field":"mn","type":"quantitative","scale":{"domain":[0,600],"nice":false},"axis":{"values":[0,100,200,300,400,500,600],"title":null}}}},
   {"transform": [{"filter": "datum.k=='o'"}], "mark": {"type": "point", "shape": "circle", "filled": true, "size": 14, "opacity": 0.9, "clip": true},
    "encoding": {"xOffset": {"field":"s","type":"nominal","scale":{"domain":["M","P"],"paddingInner":0.06}}, "y": {"field":"v","type":"quantitative","scale":{"domain":[0,600],"nice":false},"axis":{"values":[0,100,200,300,400,500,600],"title":null}}, "color": {"field":"s","type":"nominal","scale":{"domain":["M","P"],"range":["#4472C4","#ED7D31"]},"legend":null}}}
  ]},
 {"width": 418, "height": 150,
  "data": {"name": "d"}, "transform": [{"filter": "datum.p=='a3'"}],
  "encoding": {"x": {"field": "c", "type": "nominal", "scale": {"domain": ["9–10","17","20–24","28–30","41","59"], "paddingInner": 0.45, "paddingOuter": 0.25}, "axis": {"title": "SOC (g kg⁻¹ dry soil)"}}},
  "layer": [
   {"transform": [{"filter": "datum.k=='l'"}], "mark": {"type": "text", "lineBreak": "\n", "baseline": "top", "align": "center", "fontSize": 12, "lineHeight": 15, "color": "#404040"},
    "encoding": {"y": {"datum": 504, "type": "quantitative", "scale": {"domain":[0,600],"nice":false}, "axis":{"values":[0,100,200,300,400,500,600],"title":null}}, "text": {"field": "t"}}},
   {"transform": [{"filter": "datum.k=='b'"}], "mark": {"type": "rule", "clip": true, "opacity": 0.8},
    "encoding": {"xOffset": {"field":"s","type":"nominal","scale":{"domain":["M","P"],"paddingInner":0.06}}, "y": {"field":"lo","type":"quantitative","scale":{"domain":[0,600],"nice":false},"axis":{"values":[0,100,200,300,400,500,600],"title":null}}, "y2": {"field":"hi"}, "color": {"field":"s","type":"nominal","scale":{"domain":["M","P"],"range":["#4472C4","#ED7D31"]},"legend":null}}},
   {"transform": [{"filter": "datum.k=='b'"}], "mark": {"type": "bar", "clip": true},
    "encoding": {"xOffset": {"field":"s","type":"nominal","scale":{"domain":["M","P"],"paddingInner":0.06}}, "y": {"field":"q1","type":"quantitative","scale":{"domain":[0,600],"nice":false},"axis":{"values":[0,100,200,300,400,500,600],"title":null}}, "y2": {"field":"q3"}, "color": {"field":"s","type":"nominal","scale":{"domain":["M","P"],"range":["#4472C4","#ED7D31"]},"legend":null}}},
   {"transform": [{"filter": "datum.k=='b'"}, {"fold": ["lo","hi"], "as": ["w","cv"]}], "mark": {"type": "tick", "clip": true, "thickness": 1, "size": 9, "opacity": 0.8},
    "encoding": {"xOffset": {"field":"s","type":"nominal","scale":{"domain":["M","P"],"paddingInner":0.06}}, "y": {"field":"cv","type":"quantitative","scale":{"domain":[0,600],"nice":false},"axis":{"values":[0,100,200,300,400,500,600],"title":null}}, "color": {"field":"s","type":"nominal","scale":{"domain":["M","P"],"range":["#4472C4","#ED7D31"]},"legend":null}}},
   {"transform": [{"filter": "datum.k=='b'"}], "mark": {"type": "bar", "clip": true, "fillOpacity": 0, "stroke": "#000", "strokeOpacity": 0.25, "strokeWidth": 1},
    "encoding": {"xOffset": {"field":"s","type":"nominal","scale":{"domain":["M","P"],"paddingInner":0.06}}, "y": {"field":"md","type":"quantitative","scale":{"domain":[0,600],"nice":false},"axis":{"values":[0,100,200,300,400,500,600],"title":null}}, "y2": {"field":"md"}}},
   {"transform": [{"filter": "datum.k=='b'"}], "mark": {"type": "point", "shape": "M-1,-1L1,1M-1,1L1,-1", "filled": false, "size": 30, "strokeWidth": 1, "color": "#6b3510", "opacity": 0.6, "clip": true},
    "encoding": {"xOffset": {"field":"s","type":"nominal","scale":{"domain":["M","P"],"paddingInner":0.06}}, "y": {"field":"mn","type":"quantitative","scale":{"domain":[0,600],"nice":false},"axis":{"values":[0,100,200,300,400,500,600],"title":null}}}},
   {"transform": [{"filter": "datum.k=='o'"}], "mark": {"type": "point", "shape": "circle", "filled": true, "size": 14, "opacity": 0.9, "clip": true},
    "encoding": {"xOffset": {"field":"s","type":"nominal","scale":{"domain":["M","P"],"paddingInner":0.06}}, "y": {"field":"v","type":"quantitative","scale":{"domain":[0,600],"nice":false},"axis":{"values":[0,100,200,300,400,500,600],"title":null}}, "color": {"field":"s","type":"nominal","scale":{"domain":["M","P"],"range":["#4472C4","#ED7D31"]},"legend":null}}}
  ]},
 {"width": 418, "height": 152,
  "data": {"name": "d"}, "transform": [{"filter": "datum.p=='a4'"}],
  "encoding": {"x": {"field": "c", "type": "nominal", "scale": {"domain": ["5.8","6.2","6.4","6.5","6.6","7.1","7.4"], "paddingInner": 0.5, "paddingOuter": 0.25}, "axis": {"title": "Soil pH"}}},
  "layer": [
   {"transform": [{"filter": "datum.k=='l'"}], "mark": {"type": "text", "lineBreak": "\n", "baseline": "top", "align": "center", "fontSize": 12, "lineHeight": 15, "color": "#404040"},
    "encoding": {"y": {"datum": 545, "type": "quantitative", "scale": {"domain":[0,600],"nice":false}, "axis":{"values":[0,100,200,300,400,500,600],"title":null}}, "text": {"field": "t"}}},
   {"transform": [{"filter": "datum.k=='b'"}], "mark": {"type": "rule", "clip": true, "opacity": 0.8},
    "encoding": {"xOffset": {"field":"s","type":"nominal","scale":{"domain":["M","P"],"paddingInner":0.06}}, "y": {"field":"lo","type":"quantitative","scale":{"domain":[0,600],"nice":false},"axis":{"values":[0,100,200,300,400,500,600],"title":null}}, "y2": {"field":"hi"}, "color": {"field":"s","type":"nominal","scale":{"domain":["M","P"],"range":["#4472C4","#ED7D31"]},"legend":null}}},
   {"transform": [{"filter": "datum.k=='b'"}], "mark": {"type": "bar", "clip": true},
    "encoding": {"xOffset": {"field":"s","type":"nominal","scale":{"domain":["M","P"],"paddingInner":0.06}}, "y": {"field":"q1","type":"quantitative","scale":{"domain":[0,600],"nice":false},"axis":{"values":[0,100,200,300,400,500,600],"title":null}}, "y2": {"field":"q3"}, "color": {"field":"s","type":"nominal","scale":{"domain":["M","P"],"range":["#4472C4","#ED7D31"]},"legend":null}}},
   {"transform": [{"filter": "datum.k=='b'"}, {"fold": ["lo","hi"], "as": ["w","cv"]}], "mark": {"type": "tick", "clip": true, "thickness": 1, "size": 7, "opacity": 0.8},
    "encoding": {"xOffset": {"field":"s","type":"nominal","scale":{"domain":["M","P"],"paddingInner":0.06}}, "y": {"field":"cv","type":"quantitative","scale":{"domain":[0,600],"nice":false},"axis":{"values":[0,100,200,300,400,500,600],"title":null}}, "color": {"field":"s","type":"nominal","scale":{"domain":["M","P"],"range":["#4472C4","#ED7D31"]},"legend":null}}},
   {"transform": [{"filter": "datum.k=='b'"}], "mark": {"type": "bar", "clip": true, "fillOpacity": 0, "stroke": "#000", "strokeOpacity": 0.25, "strokeWidth": 1},
    "encoding": {"xOffset": {"field":"s","type":"nominal","scale":{"domain":["M","P"],"paddingInner":0.06}}, "y": {"field":"md","type":"quantitative","scale":{"domain":[0,600],"nice":false},"axis":{"values":[0,100,200,300,400,500,600],"title":null}}, "y2": {"field":"md"}}},
   {"transform": [{"filter": "datum.k=='b'"}], "mark": {"type": "point", "shape": "M-1,-1L1,1M-1,1L1,-1", "filled": false, "size": 30, "strokeWidth": 1, "color": "#6b3510", "opacity": 0.6, "clip": true},
    "encoding": {"xOffset": {"field":"s","type":"nominal","scale":{"domain":["M","P"],"paddingInner":0.06}}, "y": {"field":"mn","type":"quantitative","scale":{"domain":[0,600],"nice":false},"axis":{"values":[0,100,200,300,400,500,600],"title":null}}}},
   {"transform": [{"filter": "datum.k=='o'"}], "mark": {"type": "point", "shape": "circle", "filled": true, "size": 14, "opacity": 0.9, "clip": true},
    "encoding": {"xOffset": {"field":"s","type":"nominal","scale":{"domain":["M","P"],"paddingInner":0.06}}, "y": {"field":"v","type":"quantitative","scale":{"domain":[0,600],"nice":false},"axis":{"values":[0,100,200,300,400,500,600],"title":null}}, "color": {"field":"s","type":"nominal","scale":{"domain":["M","P"],"range":["#4472C4","#ED7D31"]},"legend":null}}}
  ]},
 {"width": 418, "height": 150,
  "data": {"name": "d"}, "transform": [{"filter": "datum.p=='a5'"}],
  "encoding": {"x": {"field": "c", "type": "nominal", "scale": {"domain": ["38","65","99–105","130–140","161","202–222","260–300","310–347","365–369","490"], "paddingInner": 0.42, "paddingOuter": 0.25}, "axis": {"title": "Length of experimental period in days", "labelLineHeight": 14, "labelExpr": "indexof(['38','99–105','161','260–300','365–369'], datum.value) >= 0 ? ['', datum.label] : datum.label"}}},
  "layer": [
   {"transform": [{"filter": "datum.k=='l'"}], "mark": {"type": "text", "lineBreak": "\n", "baseline": "top", "align": "center", "dx": -4, "fontSize": 12, "lineHeight": 15, "color": "#404040"},
    "encoding": {"y": {"datum": 544, "type": "quantitative", "scale": {"domain":[0,600],"nice":false}, "axis":{"values":[0,100,200,300,400,500,600],"title":null}}, "text": {"field": "t"}}},
   {"transform": [{"filter": "datum.k=='b'"}], "mark": {"type": "rule", "clip": true, "opacity": 0.8},
    "encoding": {"xOffset": {"field":"s","type":"nominal","scale":{"domain":["M","P"],"paddingInner":0.06}}, "y": {"field":"lo","type":"quantitative","scale":{"domain":[0,600],"nice":false},"axis":{"values":[0,100,200,300,400,500,600],"title":null}}, "y2": {"field":"hi"}, "color": {"field":"s","type":"nominal","scale":{"domain":["M","P"],"range":["#4472C4","#ED7D31"]},"legend":null}}},
   {"transform": [{"filter": "datum.k=='b'"}], "mark": {"type": "bar", "clip": true},
    "encoding": {"xOffset": {"field":"s","type":"nominal","scale":{"domain":["M","P"],"paddingInner":0.06}}, "y": {"field":"q1","type":"quantitative","scale":{"domain":[0,600],"nice":false},"axis":{"values":[0,100,200,300,400,500,600],"title":null}}, "y2": {"field":"q3"}, "color": {"field":"s","type":"nominal","scale":{"domain":["M","P"],"range":["#4472C4","#ED7D31"]},"legend":null}}},
   {"transform": [{"filter": "datum.k=='b'"}, {"fold": ["lo","hi"], "as": ["w","cv"]}], "mark": {"type": "tick", "clip": true, "thickness": 1, "size": 6, "opacity": 0.8},
    "encoding": {"xOffset": {"field":"s","type":"nominal","scale":{"domain":["M","P"],"paddingInner":0.06}}, "y": {"field":"cv","type":"quantitative","scale":{"domain":[0,600],"nice":false},"axis":{"values":[0,100,200,300,400,500,600],"title":null}}, "color": {"field":"s","type":"nominal","scale":{"domain":["M","P"],"range":["#4472C4","#ED7D31"]},"legend":null}}},
   {"transform": [{"filter": "datum.k=='b'"}], "mark": {"type": "bar", "clip": true, "fillOpacity": 0, "stroke": "#000", "strokeOpacity": 0.25, "strokeWidth": 1},
    "encoding": {"xOffset": {"field":"s","type":"nominal","scale":{"domain":["M","P"],"paddingInner":0.06}}, "y": {"field":"md","type":"quantitative","scale":{"domain":[0,600],"nice":false},"axis":{"values":[0,100,200,300,400,500,600],"title":null}}, "y2": {"field":"md"}}},
   {"transform": [{"filter": "datum.k=='b'"}], "mark": {"type": "point", "shape": "M-1,-1L1,1M-1,1L1,-1", "filled": false, "size": 25, "strokeWidth": 1, "color": "#6b3510", "opacity": 0.6, "clip": true},
    "encoding": {"xOffset": {"field":"s","type":"nominal","scale":{"domain":["M","P"],"paddingInner":0.06}}, "y": {"field":"mn","type":"quantitative","scale":{"domain":[0,600],"nice":false},"axis":{"values":[0,100,200,300,400,500,600],"title":null}}}},
   {"transform": [{"filter": "datum.k=='o'"}], "mark": {"type": "point", "shape": "circle", "filled": true, "size": 14, "opacity": 0.9, "clip": true},
    "encoding": {"xOffset": {"field":"s","type":"nominal","scale":{"domain":["M","P"],"paddingInner":0.06}}, "y": {"field":"v","type":"quantitative","scale":{"domain":[0,600],"nice":false},"axis":{"values":[0,100,200,300,400,500,600],"title":null}}, "color": {"field":"s","type":"nominal","scale":{"domain":["M","P"],"range":["#4472C4","#ED7D31"]},"legend":null}}}
  ]},
 {"width": 418, "height": 156,
  "data": {"name": "d"}, "transform": [{"filter": "datum.p=='a6'"}],
  "encoding": {"x": {"field": "c", "type": "nominal", "scale": {"domain": ["Cereal","Cereal+grass","Cereal +GC","Cereal+legume","Cereal+radish","Cereal after GC","Cereal after clover","Grain legume","Potato","Grass","GC","Clover","Weed","None (winter)"], "paddingInner": 0.55, "paddingOuter": 0.25}, "axis": {"title": "Type of crop", "labelAngle": -90, "labelAlign": "right", "labelBaseline": "middle", "labelPadding": 3, "titlePadding": 1, "labelFontSize": 11}}},
  "layer": [
   {"transform": [{"filter": "datum.k=='l'"}], "mark": {"type": "text", "lineBreak": "\n", "baseline": "top", "align": "center", "fontSize": 12, "lineHeight": 15, "color": "#404040"},
    "encoding": {"y": {"datum": 453, "type": "quantitative", "scale": {"domain":[0,600],"nice":false}, "axis":{"values":[0,100,200,300,400,500,600],"title":null}}, "text": {"field": "t"}}},
   {"transform": [{"filter": "datum.k=='b'"}], "mark": {"type": "rule", "clip": true, "opacity": 0.8},
    "encoding": {"xOffset": {"field":"s","type":"nominal","scale":{"domain":["M","P"],"paddingInner":0.06}}, "y": {"field":"lo","type":"quantitative","scale":{"domain":[0,600],"nice":false},"axis":{"values":[0,100,200,300,400,500,600],"title":null}}, "y2": {"field":"hi"}, "color": {"field":"s","type":"nominal","scale":{"domain":["M","P"],"range":["#4472C4","#ED7D31"]},"legend":null}}},
   {"transform": [{"filter": "datum.k=='b'"}], "mark": {"type": "bar", "clip": true},
    "encoding": {"xOffset": {"field":"s","type":"nominal","scale":{"domain":["M","P"],"paddingInner":0.06}}, "y": {"field":"q1","type":"quantitative","scale":{"domain":[0,600],"nice":false},"axis":{"values":[0,100,200,300,400,500,600],"title":null}}, "y2": {"field":"q3"}, "color": {"field":"s","type":"nominal","scale":{"domain":["M","P"],"range":["#4472C4","#ED7D31"]},"legend":null}}},
   {"transform": [{"filter": "datum.k=='b'"}, {"fold": ["lo","hi"], "as": ["w","cv"]}], "mark": {"type": "tick", "clip": true, "thickness": 1, "size": 4, "opacity": 0.8},
    "encoding": {"xOffset": {"field":"s","type":"nominal","scale":{"domain":["M","P"],"paddingInner":0.06}}, "y": {"field":"cv","type":"quantitative","scale":{"domain":[0,600],"nice":false},"axis":{"values":[0,100,200,300,400,500,600],"title":null}}, "color": {"field":"s","type":"nominal","scale":{"domain":["M","P"],"range":["#4472C4","#ED7D31"]},"legend":null}}},
   {"transform": [{"filter": "datum.k=='b'"}], "mark": {"type": "bar", "clip": true, "fillOpacity": 0, "stroke": "#000", "strokeOpacity": 0.25, "strokeWidth": 1},
    "encoding": {"xOffset": {"field":"s","type":"nominal","scale":{"domain":["M","P"],"paddingInner":0.06}}, "y": {"field":"md","type":"quantitative","scale":{"domain":[0,600],"nice":false},"axis":{"values":[0,100,200,300,400,500,600],"title":null}}, "y2": {"field":"md"}}},
   {"transform": [{"filter": "datum.k=='b'"}], "mark": {"type": "point", "shape": "M-1,-1L1,1M-1,1L1,-1", "filled": false, "size": 16, "strokeWidth": 1, "color": "#6b3510", "opacity": 0.6, "clip": true},
    "encoding": {"xOffset": {"field":"s","type":"nominal","scale":{"domain":["M","P"],"paddingInner":0.06}}, "y": {"field":"mn","type":"quantitative","scale":{"domain":[0,600],"nice":false},"axis":{"values":[0,100,200,300,400,500,600],"title":null}}}},
   {"transform": [{"filter": "datum.k=='o'"}], "mark": {"type": "point", "shape": "circle", "filled": true, "size": 12, "opacity": 0.9, "clip": true},
    "encoding": {"xOffset": {"field":"s","type":"nominal","scale":{"domain":["M","P"],"paddingInner":0.06}}, "y": {"field":"v","type":"quantitative","scale":{"domain":[0,600],"nice":false},"axis":{"values":[0,100,200,300,400,500,600],"title":null}}, "color": {"field":"s","type":"nominal","scale":{"domain":["M","P"],"range":["#4472C4","#ED7D31"]},"legend":null}}}
  ]},
 {"width": 418, "height": 155,
  "data": {"name": "d"}, "transform": [{"filter": "datum.p=='a7'"}],
  "encoding": {"x": {"field": "c", "type": "nominal", "scale": {"domain": ["0.2–0.4","1.5–1.9","2.2–2.4","3.1–3.8","4.1–4.6","10.0"], "paddingInner": 0.5, "paddingOuter": 0.25}, "axis": {"title": "Mean daily precipitation in the period (mm)", "titlePadding": 3}}},
  "layer": [
   {"transform": [{"filter": "datum.k=='l'"}], "mark": {"type": "text", "lineBreak": "\n", "baseline": "top", "align": "center", "dx": -14, "fontSize": 12, "lineHeight": 15, "color": "#404040"},
    "encoding": {"y": {"datum": 539, "type": "quantitative", "scale": {"domain":[0,600],"nice":false}, "axis":{"values":[0,100,200,300,400,500,600],"title":null}}, "text": {"field": "t"}}},
   {"transform": [{"filter": "datum.k=='b'"}], "mark": {"type": "rule", "clip": true, "opacity": 0.8},
    "encoding": {"xOffset": {"field":"s","type":"nominal","scale":{"domain":["M","P"],"paddingInner":0.06}}, "y": {"field":"lo","type":"quantitative","scale":{"domain":[0,600],"nice":false},"axis":{"values":[0,100,200,300,400,500,600],"title":null}}, "y2": {"field":"hi"}, "color": {"field":"s","type":"nominal","scale":{"domain":["M","P"],"range":["#4472C4","#ED7D31"]},"legend":null}}},
   {"transform": [{"filter": "datum.k=='b'"}], "mark": {"type": "bar", "clip": true},
    "encoding": {"xOffset": {"field":"s","type":"nominal","scale":{"domain":["M","P"],"paddingInner":0.06}}, "y": {"field":"q1","type":"quantitative","scale":{"domain":[0,600],"nice":false},"axis":{"values":[0,100,200,300,400,500,600],"title":null}}, "y2": {"field":"q3"}, "color": {"field":"s","type":"nominal","scale":{"domain":["M","P"],"range":["#4472C4","#ED7D31"]},"legend":null}}},
   {"transform": [{"filter": "datum.k=='b'"}, {"fold": ["lo","hi"], "as": ["w","cv"]}], "mark": {"type": "tick", "clip": true, "thickness": 1, "size": 8, "opacity": 0.8},
    "encoding": {"xOffset": {"field":"s","type":"nominal","scale":{"domain":["M","P"],"paddingInner":0.06}}, "y": {"field":"cv","type":"quantitative","scale":{"domain":[0,600],"nice":false},"axis":{"values":[0,100,200,300,400,500,600],"title":null}}, "color": {"field":"s","type":"nominal","scale":{"domain":["M","P"],"range":["#4472C4","#ED7D31"]},"legend":null}}},
   {"transform": [{"filter": "datum.k=='b'"}], "mark": {"type": "bar", "clip": true, "fillOpacity": 0, "stroke": "#000", "strokeOpacity": 0.25, "strokeWidth": 1},
    "encoding": {"xOffset": {"field":"s","type":"nominal","scale":{"domain":["M","P"],"paddingInner":0.06}}, "y": {"field":"md","type":"quantitative","scale":{"domain":[0,600],"nice":false},"axis":{"values":[0,100,200,300,400,500,600],"title":null}}, "y2": {"field":"md"}}},
   {"transform": [{"filter": "datum.k=='b'"}], "mark": {"type": "point", "shape": "M-1,-1L1,1M-1,1L1,-1", "filled": false, "size": 30, "strokeWidth": 1, "color": "#6b3510", "opacity": 0.6, "clip": true},
    "encoding": {"xOffset": {"field":"s","type":"nominal","scale":{"domain":["M","P"],"paddingInner":0.06}}, "y": {"field":"mn","type":"quantitative","scale":{"domain":[0,600],"nice":false},"axis":{"values":[0,100,200,300,400,500,600],"title":null}}}},
   {"transform": [{"filter": "datum.k=='o'"}], "mark": {"type": "point", "shape": "circle", "filled": true, "size": 14, "opacity": 0.9, "clip": true},
    "encoding": {"xOffset": {"field":"s","type":"nominal","scale":{"domain":["M","P"],"paddingInner":0.06}}, "y": {"field":"v","type":"quantitative","scale":{"domain":[0,600],"nice":false},"axis":{"values":[0,100,200,300,400,500,600],"title":null}}, "color": {"field":"s","type":"nominal","scale":{"domain":["M","P"],"range":["#4472C4","#ED7D31"]},"legend":null}}}
  ]}
 ]},
{"spacing": 19,
 "vconcat": [
 {"width": 330, "height": 145,
  "title": {"text": ["(b) Percent contribution of the five highest daily", "fluxes to cumulated emissions in the period"], "anchor": "end", "align": "right", "dx": -14, "offset": -6, "lineHeight": 17},
  "data": {"name": "d"}, "transform": [{"filter": "datum.p=='b1'"}],
  "encoding": {"x": {"field": "c", "type": "nominal", "scale": {"domain": ["9","15–19","35","45"], "paddingInner": 0.5, "paddingOuter": 0.25}, "axis": {"title": "Percent clay in soil", "labelFont": "Liberation Serif", "labelFontSize": 8}}},
  "layer": [
   {"transform": [{"filter": "datum.k=='b'"}], "mark": {"type": "rule", "clip": true, "color": "#5577B8"},
    "encoding": {"y": {"field":"lo","type":"quantitative","scale":{"domain":[0,81.2],"nice":false},"axis":{"values":[0,10,20,30,40,50,60,70],"title":null}}, "y2": {"field":"hi"}}},
   {"transform": [{"filter": "datum.k=='b'"}], "mark": {"type": "bar", "clip": true, "fill": "#92CF6C", "stroke": "#5577B8", "strokeWidth": 1},
    "encoding": {"y": {"field":"q1","type":"quantitative","scale":{"domain":[0,81.2],"nice":false},"axis":{"values":[0,10,20,30,40,50,60,70],"title":null}}, "y2": {"field":"q3"}}},
   {"transform": [{"filter": "datum.k=='b'"}, {"fold": ["lo","hi"], "as": ["w","cv"]}], "mark": {"type": "tick", "clip": true, "thickness": 1, "size": 20, "color": "#5577B8"},
    "encoding": {"y": {"field":"cv","type":"quantitative","scale":{"domain":[0,81.2],"nice":false},"axis":{"values":[0,10,20,30,40,50,60,70],"title":null}}}},
   {"transform": [{"filter": "datum.k=='b'"}], "mark": {"type": "bar", "clip": true, "fillOpacity": 0, "stroke": "#5577B8", "strokeWidth": 1},
    "encoding": {"y": {"field":"md","type":"quantitative","scale":{"domain":[0,81.2],"nice":false},"axis":{"values":[0,10,20,30,40,50,60,70],"title":null}}, "y2": {"field":"md"}}},
   {"transform": [{"filter": "datum.k=='b'"}], "mark": {"type": "point", "shape": "M-1,-1L1,1M-1,1L1,-1", "filled": false, "size": 45, "strokeWidth": 1, "color": "#3d5a80", "opacity": 0.9, "clip": true},
    "encoding": {"y": {"field":"mn","type":"quantitative","scale":{"domain":[0,81.2],"nice":false},"axis":{"values":[0,10,20,30,40,50,60,70],"title":null}}}},
   {"transform": [{"filter": "datum.k=='o'"}], "mark": {"type": "point", "shape": "circle", "filled": true, "size": 10, "color": "#7f7f7f", "clip": true},
    "encoding": {"y": {"field":"v","type":"quantitative","scale":{"domain":[0,81.2],"nice":false},"axis":{"values":[0,10,20,30,40,50,60,70],"title":null}}}}
  ]},
 {"width": 330, "height": 150,
  "data": {"name": "d"}, "transform": [{"filter": "datum.p=='b2'"}],
  "encoding": {"x": {"field": "c", "type": "nominal", "scale": {"domain": ["0","80","100–115","120–130","150–170","190–225","480"], "paddingInner": 0.5, "paddingOuter": 0.25}, "axis": {"title": "N added with organic fertilisers (kg N ha⁻¹)"}}},
  "layer": [
   {"transform": [{"filter": "datum.k=='b'"}], "mark": {"type": "rule", "clip": true, "color": "#5577B8"},
    "encoding": {"y": {"field":"lo","type":"quantitative","scale":{"domain":[0,70],"nice":false},"axis":{"values":[0,10,20,30,40,50,60,70],"title":null}}, "y2": {"field":"hi"}}},
   {"transform": [{"filter": "datum.k=='b'"}], "mark": {"type": "bar", "clip": true, "fill": "#92CF6C", "stroke": "#5577B8", "strokeWidth": 1},
    "encoding": {"y": {"field":"q1","type":"quantitative","scale":{"domain":[0,70],"nice":false},"axis":{"values":[0,10,20,30,40,50,60,70],"title":null}}, "y2": {"field":"q3"}}},
   {"transform": [{"filter": "datum.k=='b'"}, {"fold": ["lo","hi"], "as": ["w","cv"]}], "mark": {"type": "tick", "clip": true, "thickness": 1, "size": 12, "color": "#5577B8"},
    "encoding": {"y": {"field":"cv","type":"quantitative","scale":{"domain":[0,70],"nice":false},"axis":{"values":[0,10,20,30,40,50,60,70],"title":null}}}},
   {"transform": [{"filter": "datum.k=='b'"}], "mark": {"type": "bar", "clip": true, "fillOpacity": 0, "stroke": "#5577B8", "strokeWidth": 1},
    "encoding": {"y": {"field":"md","type":"quantitative","scale":{"domain":[0,70],"nice":false},"axis":{"values":[0,10,20,30,40,50,60,70],"title":null}}, "y2": {"field":"md"}}},
   {"transform": [{"filter": "datum.k=='b'"}], "mark": {"type": "point", "shape": "M-1,-1L1,1M-1,1L1,-1", "filled": false, "size": 35, "strokeWidth": 1, "color": "#3d5a80", "opacity": 0.9, "clip": true},
    "encoding": {"y": {"field":"mn","type":"quantitative","scale":{"domain":[0,70],"nice":false},"axis":{"values":[0,10,20,30,40,50,60,70],"title":null}}}},
   {"transform": [{"filter": "datum.k=='o'"}], "mark": {"type": "point", "shape": "circle", "filled": true, "size": 10, "color": "#7f7f7f", "clip": true},
    "encoding": {"y": {"field":"v","type":"quantitative","scale":{"domain":[0,70],"nice":false},"axis":{"values":[0,10,20,30,40,50,60,70],"title":null}}}}
  ]},
 {"width": 330, "height": 150,
  "data": {"name": "d"}, "transform": [{"filter": "datum.p=='b3'"}],
  "encoding": {"x": {"field": "c", "type": "nominal", "scale": {"domain": ["9–10","17","20–24","28–30","41","59"], "paddingInner": 0.5, "paddingOuter": 0.25}, "axis": {"title": "SOC (g kg⁻¹ dry soil)"}}},
  "layer": [
   {"transform": [{"filter": "datum.k=='b'"}], "mark": {"type": "rule", "clip": true, "color": "#5577B8"},
    "encoding": {"y": {"field":"lo","type":"quantitative","scale":{"domain":[0,70],"nice":false},"axis":{"values":[0,10,20,30,40,50,60,70],"title":null}}, "y2": {"field":"hi"}}},
   {"transform": [{"filter": "datum.k=='b'"}], "mark": {"type": "bar", "clip": true, "fill": "#92CF6C", "stroke": "#5577B8", "strokeWidth": 1},
    "encoding": {"y": {"field":"q1","type":"quantitative","scale":{"domain":[0,70],"nice":false},"axis":{"values":[0,10,20,30,40,50,60,70],"title":null}}, "y2": {"field":"q3"}}},
   {"transform": [{"filter": "datum.k=='b'"}, {"fold": ["lo","hi"], "as": ["w","cv"]}], "mark": {"type": "tick", "clip": true, "thickness": 1, "size": 14, "color": "#5577B8"},
    "encoding": {"y": {"field":"cv","type":"quantitative","scale":{"domain":[0,70],"nice":false},"axis":{"values":[0,10,20,30,40,50,60,70],"title":null}}}},
   {"transform": [{"filter": "datum.k=='b'"}], "mark": {"type": "bar", "clip": true, "fillOpacity": 0, "stroke": "#5577B8", "strokeWidth": 1},
    "encoding": {"y": {"field":"md","type":"quantitative","scale":{"domain":[0,70],"nice":false},"axis":{"values":[0,10,20,30,40,50,60,70],"title":null}}, "y2": {"field":"md"}}},
   {"transform": [{"filter": "datum.k=='b'"}], "mark": {"type": "point", "shape": "M-1,-1L1,1M-1,1L1,-1", "filled": false, "size": 35, "strokeWidth": 1, "color": "#3d5a80", "opacity": 0.9, "clip": true},
    "encoding": {"y": {"field":"mn","type":"quantitative","scale":{"domain":[0,70],"nice":false},"axis":{"values":[0,10,20,30,40,50,60,70],"title":null}}}},
   {"transform": [{"filter": "datum.k=='o'"}], "mark": {"type": "point", "shape": "circle", "filled": true, "size": 10, "color": "#7f7f7f", "clip": true},
    "encoding": {"y": {"field":"v","type":"quantitative","scale":{"domain":[0,70],"nice":false},"axis":{"values":[0,10,20,30,40,50,60,70],"title":null}}}}
  ]},
 {"width": 330, "height": 154,
  "data": {"name": "d"}, "transform": [{"filter": "datum.p=='b4'"}],
  "encoding": {"x": {"field": "c", "type": "nominal", "scale": {"domain": ["5.8","6.2","6.4","6.5","6.6","7.1","7.4"], "paddingInner": 0.5, "paddingOuter": 0.25}, "axis": {"title": "Soil pH"}}},
  "layer": [
   {"transform": [{"filter": "datum.k=='b'"}], "mark": {"type": "rule", "clip": true, "color": "#5577B8"},
    "encoding": {"y": {"field":"lo","type":"quantitative","scale":{"domain":[0,70],"nice":false},"axis":{"values":[0,10,20,30,40,50,60,70],"title":null}}, "y2": {"field":"hi"}}},
   {"transform": [{"filter": "datum.k=='b'"}], "mark": {"type": "bar", "clip": true, "fill": "#92CF6C", "stroke": "#5577B8", "strokeWidth": 1},
    "encoding": {"y": {"field":"q1","type":"quantitative","scale":{"domain":[0,70],"nice":false},"axis":{"values":[0,10,20,30,40,50,60,70],"title":null}}, "y2": {"field":"q3"}}},
   {"transform": [{"filter": "datum.k=='b'"}, {"fold": ["lo","hi"], "as": ["w","cv"]}], "mark": {"type": "tick", "clip": true, "thickness": 1, "size": 12, "color": "#5577B8"},
    "encoding": {"y": {"field":"cv","type":"quantitative","scale":{"domain":[0,70],"nice":false},"axis":{"values":[0,10,20,30,40,50,60,70],"title":null}}}},
   {"transform": [{"filter": "datum.k=='b'"}], "mark": {"type": "bar", "clip": true, "fillOpacity": 0, "stroke": "#5577B8", "strokeWidth": 1},
    "encoding": {"y": {"field":"md","type":"quantitative","scale":{"domain":[0,70],"nice":false},"axis":{"values":[0,10,20,30,40,50,60,70],"title":null}}, "y2": {"field":"md"}}},
   {"transform": [{"filter": "datum.k=='b'"}], "mark": {"type": "point", "shape": "M-1,-1L1,1M-1,1L1,-1", "filled": false, "size": 35, "strokeWidth": 1, "color": "#3d5a80", "opacity": 0.9, "clip": true},
    "encoding": {"y": {"field":"mn","type":"quantitative","scale":{"domain":[0,70],"nice":false},"axis":{"values":[0,10,20,30,40,50,60,70],"title":null}}}},
   {"transform": [{"filter": "datum.k=='o'"}], "mark": {"type": "point", "shape": "circle", "filled": true, "size": 10, "color": "#7f7f7f", "clip": true},
    "encoding": {"y": {"field":"v","type":"quantitative","scale":{"domain":[0,70],"nice":false},"axis":{"values":[0,10,20,30,40,50,60,70],"title":null}}}}
  ]},
 {"width": 330, "height": 155,
  "data": {"name": "d"}, "transform": [{"filter": "datum.p=='b5'"}],
  "encoding": {"x": {"field": "c", "type": "nominal", "scale": {"domain": ["38","65","99–105","130–140","161","202–222","260–300","310–347","365–369","490"], "paddingInner": 0.5, "paddingOuter": 0.25}, "axis": {"title": "Length of experimental period in days", "labelLineHeight": 14, "labelExpr": "indexof(['38','99–105','161','260–300','365–369'], datum.value) >= 0 ? ['', datum.label] : datum.label"}}},
  "layer": [
   {"transform": [{"filter": "datum.k=='b'"}], "mark": {"type": "rule", "clip": true, "color": "#5577B8"},
    "encoding": {"y": {"field":"lo","type":"quantitative","scale":{"domain":[0,70],"nice":false},"axis":{"values":[0,10,20,30,40,50,60,70],"title":null}}, "y2": {"field":"hi"}}},
   {"transform": [{"filter": "datum.k=='b'"}], "mark": {"type": "bar", "clip": true, "fill": "#92CF6C", "stroke": "#5577B8", "strokeWidth": 1},
    "encoding": {"y": {"field":"q1","type":"quantitative","scale":{"domain":[0,70],"nice":false},"axis":{"values":[0,10,20,30,40,50,60,70],"title":null}}, "y2": {"field":"q3"}}},
   {"transform": [{"filter": "datum.k=='b'"}, {"fold": ["lo","hi"], "as": ["w","cv"]}], "mark": {"type": "tick", "clip": true, "thickness": 1, "size": 8, "color": "#5577B8"},
    "encoding": {"y": {"field":"cv","type":"quantitative","scale":{"domain":[0,70],"nice":false},"axis":{"values":[0,10,20,30,40,50,60,70],"title":null}}}},
   {"transform": [{"filter": "datum.k=='b'"}], "mark": {"type": "bar", "clip": true, "fillOpacity": 0, "stroke": "#5577B8", "strokeWidth": 1},
    "encoding": {"y": {"field":"md","type":"quantitative","scale":{"domain":[0,70],"nice":false},"axis":{"values":[0,10,20,30,40,50,60,70],"title":null}}, "y2": {"field":"md"}}},
   {"transform": [{"filter": "datum.k=='b'"}], "mark": {"type": "point", "shape": "M-1,-1L1,1M-1,1L1,-1", "filled": false, "size": 30, "strokeWidth": 1, "color": "#3d5a80", "opacity": 0.9, "clip": true},
    "encoding": {"y": {"field":"mn","type":"quantitative","scale":{"domain":[0,70],"nice":false},"axis":{"values":[0,10,20,30,40,50,60,70],"title":null}}}},
   {"transform": [{"filter": "datum.k=='o'"}], "mark": {"type": "point", "shape": "circle", "filled": true, "size": 10, "color": "#7f7f7f", "clip": true},
    "encoding": {"y": {"field":"v","type":"quantitative","scale":{"domain":[0,70],"nice":false},"axis":{"values":[0,10,20,30,40,50,60,70],"title":null}}}}
  ]},
 {"width": 330, "height": 155,
  "data": {"name": "d"}, "transform": [{"filter": "datum.p=='b6'"}],
  "encoding": {"x": {"field": "c", "type": "nominal", "scale": {"domain": ["Cereal","Cereal+grass","Cereal +GC","Cereal+legume","Cereal+radish","Cereal after GC","Cereal after clover","Grain legume","Potato","Grass","GC","Clover","Weed","None (winter)"], "paddingInner": 0.5, "paddingOuter": 0.25}, "axis": {"title": "Type of crop", "labelAngle": -90, "labelAlign": "right", "labelBaseline": "middle", "labelPadding": 3, "titlePadding": 0, "labelFontSize": 11}}},
  "layer": [
   {"transform": [{"filter": "datum.k=='b'"}], "mark": {"type": "rule", "clip": true, "color": "#5577B8"},
    "encoding": {"y": {"field":"lo","type":"quantitative","scale":{"domain":[0,70],"nice":false},"axis":{"values":[0,10,20,30,40,50,60,70],"title":null}}, "y2": {"field":"hi"}}},
   {"transform": [{"filter": "datum.k=='b'"}], "mark": {"type": "bar", "clip": true, "fill": "#92CF6C", "stroke": "#5577B8", "strokeWidth": 1},
    "encoding": {"y": {"field":"q1","type":"quantitative","scale":{"domain":[0,70],"nice":false},"axis":{"values":[0,10,20,30,40,50,60,70],"title":null}}, "y2": {"field":"q3"}}},
   {"transform": [{"filter": "datum.k=='b'"}, {"fold": ["lo","hi"], "as": ["w","cv"]}], "mark": {"type": "tick", "clip": true, "thickness": 1, "size": 6, "color": "#5577B8"},
    "encoding": {"y": {"field":"cv","type":"quantitative","scale":{"domain":[0,70],"nice":false},"axis":{"values":[0,10,20,30,40,50,60,70],"title":null}}}},
   {"transform": [{"filter": "datum.k=='b'"}], "mark": {"type": "bar", "clip": true, "fillOpacity": 0, "stroke": "#5577B8", "strokeWidth": 1},
    "encoding": {"y": {"field":"md","type":"quantitative","scale":{"domain":[0,70],"nice":false},"axis":{"values":[0,10,20,30,40,50,60,70],"title":null}}, "y2": {"field":"md"}}},
   {"transform": [{"filter": "datum.k=='b'"}], "mark": {"type": "point", "shape": "M-1,-1L1,1M-1,1L1,-1", "filled": false, "size": 22, "strokeWidth": 1, "color": "#3d5a80", "opacity": 0.9, "clip": true},
    "encoding": {"y": {"field":"mn","type":"quantitative","scale":{"domain":[0,70],"nice":false},"axis":{"values":[0,10,20,30,40,50,60,70],"title":null}}}},
   {"transform": [{"filter": "datum.k=='o'"}], "mark": {"type": "point", "shape": "circle", "filled": true, "size": 10, "color": "#7f7f7f", "clip": true},
    "encoding": {"y": {"field":"v","type":"quantitative","scale":{"domain":[0,70],"nice":false},"axis":{"values":[0,10,20,30,40,50,60,70],"title":null}}}}
  ]},
 {"width": 330, "height": 155,
  "data": {"name": "d"}, "transform": [{"filter": "datum.p=='b7'"}],
  "encoding": {"x": {"field": "c", "type": "nominal", "scale": {"domain": ["0.2–0.4","1.5–1.9","2.2–2.4","3.1–3.8","4.1–4.6","10.0"], "paddingInner": 0.5, "paddingOuter": 0.25}, "axis": {"title": "Mean daily precipitation in the period (mm)", "titlePadding": 3}}},
  "layer": [
   {"transform": [{"filter": "datum.k=='b'"}], "mark": {"type": "rule", "clip": true, "color": "#5577B8"},
    "encoding": {"y": {"field":"lo","type":"quantitative","scale":{"domain":[0,70],"nice":false},"axis":{"values":[0,10,20,30,40,50,60,70],"title":null}}, "y2": {"field":"hi"}}},
   {"transform": [{"filter": "datum.k=='b'"}], "mark": {"type": "bar", "clip": true, "fill": "#92CF6C", "stroke": "#5577B8", "strokeWidth": 1},
    "encoding": {"y": {"field":"q1","type":"quantitative","scale":{"domain":[0,70],"nice":false},"axis":{"values":[0,10,20,30,40,50,60,70],"title":null}}, "y2": {"field":"q3"}}},
   {"transform": [{"filter": "datum.k=='b'"}, {"fold": ["lo","hi"], "as": ["w","cv"]}], "mark": {"type": "tick", "clip": true, "thickness": 1, "size": 14, "color": "#5577B8"},
    "encoding": {"y": {"field":"cv","type":"quantitative","scale":{"domain":[0,70],"nice":false},"axis":{"values":[0,10,20,30,40,50,60,70],"title":null}}}},
   {"transform": [{"filter": "datum.k=='b'"}], "mark": {"type": "bar", "clip": true, "fillOpacity": 0, "stroke": "#5577B8", "strokeWidth": 1},
    "encoding": {"y": {"field":"md","type":"quantitative","scale":{"domain":[0,70],"nice":false},"axis":{"values":[0,10,20,30,40,50,60,70],"title":null}}, "y2": {"field":"md"}}},
   {"transform": [{"filter": "datum.k=='b'"}], "mark": {"type": "point", "shape": "M-1,-1L1,1M-1,1L1,-1", "filled": false, "size": 35, "strokeWidth": 1, "color": "#3d5a80", "opacity": 0.9, "clip": true},
    "encoding": {"y": {"field":"mn","type":"quantitative","scale":{"domain":[0,70],"nice":false},"axis":{"values":[0,10,20,30,40,50,60,70],"title":null}}}},
   {"transform": [{"filter": "datum.k=='o'"}], "mark": {"type": "point", "shape": "circle", "filled": true, "size": 10, "color": "#7f7f7f", "clip": true},
    "encoding": {"y": {"field":"v","type":"quantitative","scale":{"domain":[0,70],"nice":false},"axis":{"values":[0,10,20,30,40,50,60,70],"title":null}}}}
  ]}
 ]}
]
}
